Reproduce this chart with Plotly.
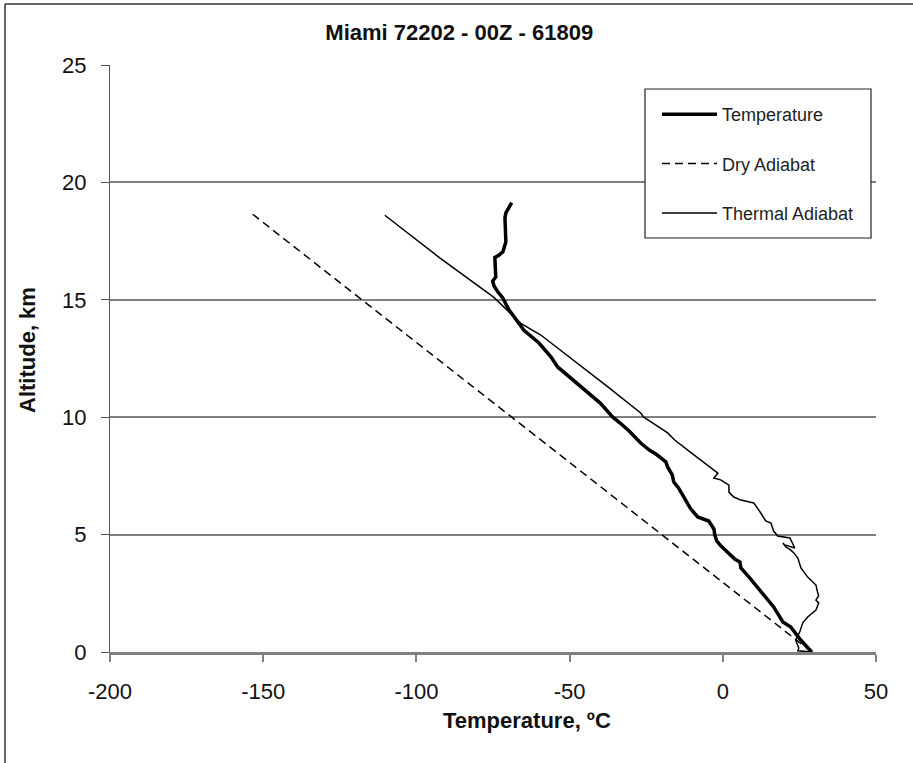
import plotly.graph_objects as go

# ---------------- data ----------------
temp_T = [29.0, 25.5, 22.2, 19.6, 16.6, 14.5, 11.4, 8.5, 5.9, 5.6, 4.0, 1.5, -0.5, -2.0,
          -2.6, -2.9, -4.6, -8.2, -10.5, -12.7, -14.5, -16.0, -16.5, -18.0, -18.6, -21.5,
          -24.0, -26.8, -30.5, -33.5, -35.9, -40.0, -43.5, -46.3, -50.0, -53.9, -56.1,
          -60.0, -64.9, -67.6, -69.8, -71.8, -73.5, -74.7, -75.1, -74.1, -74.4, -74.4,
          -73.1, -71.8, -70.8, -71.1, -71.1, -70.8, -68.9]
temp_z = [0.0, 0.5, 1.06, 1.28, 1.92, 2.26, 2.77, 3.2, 3.58, 3.83, 3.95, 4.25, 4.5, 4.73,
          4.98, 5.24, 5.58, 5.75, 6.1, 6.6, 7.0, 7.24, 7.54, 7.88, 8.1, 8.4,
          8.6, 8.9, 9.4, 9.75, 10.0, 10.6, 11.0, 11.3, 11.7, 12.14, 12.57,
          13.16, 13.7, 14.2, 14.57, 15.08, 15.35, 15.6, 15.8, 15.97, 16.4, 16.8,
          16.9, 17.04, 17.46, 18.27, 18.5, 18.7, 19.14]

dry_T = [29.0, -154.0]
dry_z = [0.0, 18.7]

thermal_T = [29.4, 24.5, 24.8, 23.8, 25.1, 26.1, 27.7, 30.4, 31.3, 30.4, 31.3, 31.0,
             30.4, 27.7, 25.5, 24.5, 23.2, 22.2, 20.6, 19.6, 20.2, 23.5, 21.9, 17.9,
             16.6, 15.7, 14.0, 12.4, 10.1, 5.9, 3.6, 2.0, 2.0, -0.7, -2.9, -1.6, -4.9,
             -10.5, -15.7, -18.0, -25.8, -26.8, -37.5, -44.5, -59.4, -65.9, -74.7,
             -92.5, -110.3]
thermal_z = [0.0, 0.05, 0.17, 0.51, 0.85, 1.24, 1.49, 1.79, 2.09, 2.21, 2.4, 2.51,
             2.85, 3.19, 3.58, 4.0, 4.22, 4.34, 4.47, 4.64, 4.56, 4.43, 4.86, 4.94,
             5.15, 5.49, 5.58, 5.92, 6.35, 6.47, 6.6, 6.81, 7.11, 7.33, 7.41, 7.62, 7.96,
             8.5, 9.03, 9.33, 10.0, 10.18, 11.29, 12.0, 13.5, 14.0, 15.1,
             16.8, 18.6]

x_ticks = [-200, -150, -100, -50, 0, 50]
x_tick_labels = ["-200", "-150", "-100", "-50", "0", "50"]
y_ticks = [0, 5, 10, 15, 20, 25]

title_text = "Miami 72202 - 00Z - 61809"
x_title = "Temperature, ºC"
y_title = "Altitude, km"

FONT = "Liberation Sans, Arial, sans-serif"

fig = go.Figure()
fig.add_trace(go.Scatter(x=temp_T, y=temp_z, mode="lines", name="Temperature",
                         legendgroup="a",
                         line=dict(color="black", width=3.5)))
fig.add_trace(go.Scatter(x=dry_T, y=dry_z, mode="lines", name="Dry Adiabat",
                         legendgroup="b",
                         line=dict(color="black", width=1.5, dash="8px,5px")))
fig.add_trace(go.Scatter(x=thermal_T, y=thermal_z, mode="lines", name="Thermal Adiabat",
                         legendgroup="c",
                         line=dict(color="black", width=1.5)))

W, H = 913, 763
L, R, T, B = 110, 37, 65, 111
pw, ph = W - L - R, H - T - B


def px_x(p):
    return (p - L) / pw


def px_y(p):
    return (H - B - p) / ph


fig.update_layout(
    width=W, height=H,
    margin=dict(l=L, r=R, t=T, b=B),
    paper_bgcolor="white", plot_bgcolor="white",
    font=dict(family=FONT, color="black"),
    title=dict(text="<b>" + title_text + "</b>", x=0.503, xref="container",
               y=1 - 32 / H, yref="container", xanchor="center", yanchor="middle",
               font=dict(size=22, color="#111")),
    showlegend=True,
    legend=dict(x=px_x(657), y=px_y(96), xanchor="left", yanchor="top",
                bgcolor="rgba(0,0,0,0)", borderwidth=0,
                font=dict(size=18, color="#222"), tracegroupgap=23,
                traceorder="grouped", itemwidth=55),
    xaxis=dict(range=[-200, 50], tickvals=x_ticks, ticktext=x_tick_labels,
               showgrid=False, zeroline=False, showline=True, linecolor="#808080",
               linewidth=2.5, ticks="outside", ticklen=7, tickcolor="#808080",
               tickwidth=1.5, tickfont=dict(size=22, color="#111"),
               ticklabelstandoff=11),
    yaxis=dict(range=[0, 25], tickvals=y_ticks, showgrid=True, gridcolor="#808080",
               gridwidth=2, zeroline=False, showline=True, linecolor="#555",
               linewidth=1.2, ticks="outside", ticklen=8, tickcolor="#555",
               tickwidth=1.2, tickfont=dict(size=22, color="#111"),
               ticklabelstandoff=10),
)

fig.add_annotation(text="<b>" + x_title + "</b>", x=px_x(527), y=px_y(720),
                   xref="paper", yref="paper", showarrow=False,
                   xanchor="center", yanchor="middle",
                   font=dict(size=22, color="#111"))
fig.add_annotation(text="<b>" + y_title + "</b>", x=px_x(27), y=px_y(350),
                   xref="paper", yref="paper", showarrow=False, textangle=-90,
                   xanchor="center", yanchor="middle",
                   font=dict(size=22, color="#111"))

# legend frame
fig.add_shape(type="rect", xref="paper", yref="paper",
              x0=px_x(645), x1=px_x(871), y0=px_y(238), y1=px_y(89),
              fillcolor="white", layer="above",
              line=dict(color="#222", width=1.2))

# outer frame (top and left edges visible in the original)
fig.add_shape(type="line", xref="paper", yref="paper",
              x0=px_x(5), x1=px_x(W + 5), y0=px_y(4), y1=px_y(4),
              line=dict(color="#333", width=1.5))
fig.add_shape(type="line", xref="paper", yref="paper",
              x0=px_x(5), x1=px_x(5), y0=px_y(4), y1=px_y(H + 5),
              line=dict(color="#333", width=1.5))

fig.write_html("out.html")
